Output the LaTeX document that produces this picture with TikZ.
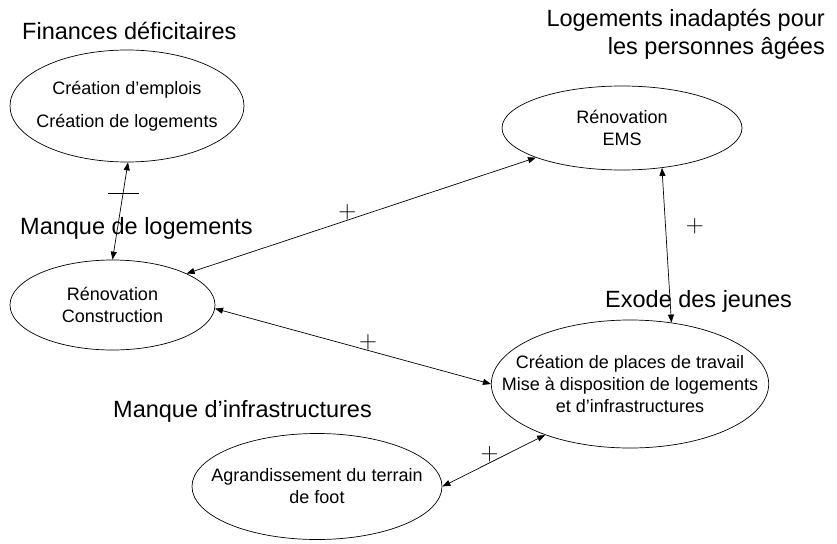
\documentclass[tikz,border=0pt]{standalone}
\usepackage{fontspec}
\setmainfont{Liberation Sans}
\usetikzlibrary{arrows.meta, shapes.geometric}

\begin{document}
\begin{tikzpicture}[x=1pt, y=-1pt,
    bubble/.style={draw, ellipse, line width=0.7pt, align=center, inner sep=-30pt, font=\fontsize{18}{22}\selectfont},
    topic/.style={inner sep=0pt, font=\fontsize{23.5}{28}\selectfont},
    plus/.style={inner sep=0pt, font=\fontsize{28}{28}\selectfont},
    arr/.style={{Triangle[length=8pt,width=6pt]}-{Triangle[length=8pt,width=6pt]}, line width=0.7pt}
]
\useasboundingbox (0,0) rectangle (837,543);

\node[bubble, minimum width=234pt, minimum height=112pt] (fin)  at (127,106) {Création d’emplois\\[11pt]Création de logements};
\node[bubble, minimum width=240pt, minimum height=84pt]  (ems)  at (622,128) {Rénovation\\EMS};
\node[bubble, minimum width=205pt, minimum height=90pt]  (log)  at (112.5,305) {Rénovation\\Construction};
\node[bubble, minimum width=244pt, minimum height=128pt] (work) at (630,384) {Création de places de travail\\Mise à disposition de logements\\et d’infrastructures};
\node[bubble, minimum width=250pt, minimum height=106pt] (foot) at (317,486.5) {Agrandissement du terrain\\de foot};

\node[topic, anchor=base west] (t-fin)  at (22,40) {Finances déficitaires};
\node[topic, anchor=base east, align=right] (t-ems) at (825,55) {Logements inadaptés pour\\les personnes âgées};
\node[topic, anchor=base west] (t-log)  at (20,234) {Manque de logements};
\node[topic, anchor=base west] (t-work) at (605,307) {Exode des jeunes};
\node[topic, anchor=base west] (t-foot) at (113,417) {Manque d’infrastructures};

\draw[arr] (fin.-89) -- node[pos=.316, inner sep=0pt] (minus) {\rule{31pt}{0.8pt}} (log.90);
\draw[arr] (log.23) -- node[pos=.46, anchor=south, plus] (p1) {$+$} (ems.199);
\draw[arr] (log.-2) -- node[pos=.555, anchor=south, plus] (p2) {$+$} (work.west);
\draw[arr] (ems.-45) -- node[pos=.38, anchor=west, xshift=20pt, plus] (p3) {$+$} (work.56);
\draw[arr] (foot.east) -- node[pos=.46, anchor=south, plus] (p4) {$+$} (work.211);
\end{tikzpicture}
\end{document}
